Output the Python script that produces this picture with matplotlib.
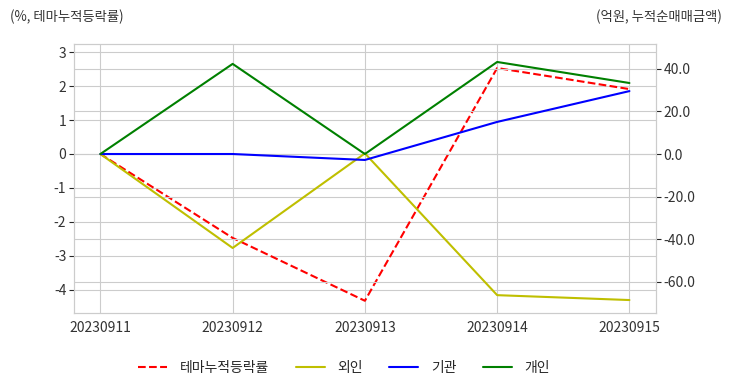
import matplotlib
matplotlib.use("Agg")
import matplotlib.pyplot as plt
import seaborn as sns

sns.set_style("whitegrid")
plt.rcParams['font.family'] = ['Noto Sans CJK KR', 'DejaVu Sans']
plt.rcParams['axes.unicode_minus'] = False

dates = ["20230911", "20230912", "20230913", "20230914", "20230915"]
theme_ret = [0.0, -2.47, -4.32, 2.53, 1.91]      # %
foreign = [0.0, -44.2, 0.3, -66.4, -68.7]        # 억원
institution = [0.0, 0.0, -2.8, 15.1, 29.6]
individual = [0.0, 42.4, 0.0, 43.3, 33.4]

fig = plt.figure(figsize=(7.32, 3.92), dpi=100)
ax = fig.add_axes([0.101, 0.2015, 0.795, 0.6865])
ax2 = ax.twinx()

x = range(len(dates))
l1, = ax.plot(x, theme_ret, color='r', linestyle='--', linewidth=1.5, label='테마누적등락률')
l2, = ax2.plot(x, foreign, color='y', linewidth=1.5, label='외인')
l3, = ax2.plot(x, institution, color='b', linewidth=1.5, label='기관')
l4, = ax2.plot(x, individual, color='g', linewidth=1.5, label='개인')

ax.set_xlim(-0.2, 4.2)
ax.set_ylim(-4.68, 3.24)
ax.set_yticks(range(-4, 4))
ax2.set_ylim(-74.8, 51.8)
ax2.set_yticks([-60, -40, -20, 0, 20, 40])
ax2.set_yticklabels([f"{v:.1f}" for v in [-60, -40, -20, 0, 20, 40]])
ax.set_xticks(list(x))
ax.set_xticklabels(dates)

for a in (ax, ax2):
    a.tick_params(labelsize=10, labelcolor='#333333', pad=2)
    for s in a.spines.values():
        s.set_color('#cccccc')

fig.text(0.013, 0.958, "(%, 테마누적등락률)", fontsize=9.6, color='#333333', va='center')
fig.text(0.986, 0.958, "(억원, 누적순매매금액)", fontsize=9.6, color='#333333', va='center', ha='right')

fig.legend(handles=[l1, l2, l3, l4], loc='center', bbox_to_anchor=(0.47, 0.061),
           ncol=4, frameon=False, fontsize=10, handlelength=2.1, handletextpad=0.9,
           columnspacing=1.9)

fig.savefig("out.png", dpi=100)
